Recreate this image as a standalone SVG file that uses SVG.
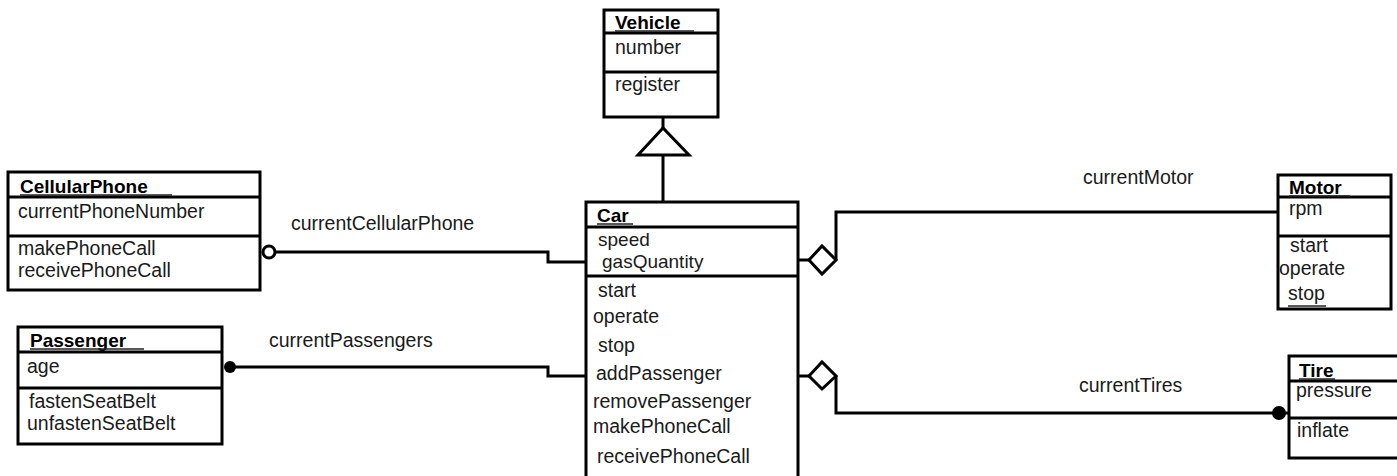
<svg xmlns="http://www.w3.org/2000/svg" width="1397" height="476" viewBox="0 0 1397 476">
<style>
  .box{fill:#fff;stroke:#000;stroke-width:3}
  .div{stroke:#000;stroke-width:3}
  .ul{stroke:#222;stroke-width:1.5}
  .t{font-family:"Liberation Sans",Arial,sans-serif;font-size:19.5px;fill:#1a1a1a}
  .b{font-family:"Liberation Sans",Arial,sans-serif;font-size:19px;font-weight:bold;fill:#000}
  .c{fill:none;stroke:#000;stroke-width:3}
</style>
<rect width="1397" height="476" fill="#fff"/>
<g id="connectors">
  <polyline class="c" points="663,117 663,128"/>
  <polygon class="c" points="663,128 638,155 689,155" stroke-linejoin="miter"/>
  <polyline class="c" points="663,155 663,202"/>
  <polyline class="c" points="276,252 548,252 548,262 586,262"/>
  <circle cx="269" cy="252" r="6" fill="#fff" stroke="#000" stroke-width="3"/>
  <polyline class="c" points="230,367 548,367 548,376 586,376"/>
  <circle cx="230" cy="367" r="6" fill="#000"/>
  <polyline class="c" points="798,260 809,260"/>
  <polygon class="c" points="809,260 822,246 836,260 822,274"/>
  <polyline class="c" points="836,260 836,212 1278,212"/>
  <polyline class="c" points="798,376 809,376"/>
  <polygon class="c" points="809,376 822,362 836,376 822,389"/>
  <polyline class="c" points="836,376 836,413 1289,413"/>
  <circle cx="1279" cy="413" r="7" fill="#000"/>
  <text class="t" x="291" y="230">currentCellularPhone</text>
  <text class="t" x="269" y="347">currentPassengers</text>
  <text class="t" x="1083" y="184">currentMotor</text>
  <text class="t" x="1079" y="392">currentTires</text>
</g>
<g id="Vehicle">
  <rect class="box" x="604" y="10" width="114" height="107"/>
  <line class="div" x1="604" y1="33" x2="718" y2="33"/>
  <line class="div" x1="604" y1="72" x2="718" y2="72"/>
  <text class="b" x="615" y="29">Vehicle</text>
  <line class="ul" x1="615" y1="31" x2="694" y2="31"/>
  <text class="t" x="615" y="54">number</text>
  <text class="t" x="615" y="91">register</text>
</g>
<g id="Car">
  <rect class="box" x="586" y="202" width="212" height="300"/>
  <line class="div" x1="586" y1="227" x2="798" y2="227"/>
  <line class="div" x1="586" y1="276" x2="798" y2="276"/>
  <text class="b" x="597" y="222">Car</text>
  <line class="ul" x1="597" y1="224" x2="633" y2="224"/>
  <text class="t" x="598" y="246" style="font-size:19px">speed</text>
  <text class="t" x="602" y="268" style="font-size:19px">gasQuantity</text>
  <text class="t" x="598" y="297">start</text>
  <text class="t" x="593" y="323">operate</text>
  <text class="t" x="598" y="352">stop</text>
  <text class="t" x="596" y="380">addPassenger</text>
  <text class="t" x="593" y="408">removePassenger</text>
  <text class="t" x="593" y="433">makePhoneCall</text>
  <text class="t" x="597" y="463">receivePhoneCall</text>
</g>
<g id="CellularPhone">
  <rect class="box" x="8" y="172" width="252" height="118"/>
  <line class="div" x1="8" y1="197" x2="260" y2="197"/>
  <line class="div" x1="8" y1="236" x2="260" y2="236"/>
  <text class="b" x="20" y="193">CellularPhone</text>
  <line class="ul" x1="20" y1="195" x2="172" y2="195"/>
  <text class="t" x="18" y="218">currentPhoneNumber</text>
  <text class="t" x="18" y="255">makePhoneCall</text>
  <text class="t" x="18" y="277">receivePhoneCall</text>
</g>
<g id="Passenger">
  <rect class="box" x="18" y="327" width="204" height="117"/>
  <line class="div" x1="18" y1="352" x2="222" y2="352"/>
  <line class="div" x1="18" y1="388" x2="222" y2="388"/>
  <text class="b" x="30" y="347">Passenger</text>
  <line class="ul" x1="30" y1="349" x2="144" y2="349"/>
  <text class="t" x="27" y="373">age</text>
  <text class="t" x="29" y="408">fastenSeatBelt</text>
  <text class="t" x="27" y="430">unfastenSeatBelt</text>
</g>
<g id="Motor">
  <rect class="box" x="1278" y="175" width="113" height="134"/>
  <line class="div" x1="1278" y1="197" x2="1391" y2="197"/>
  <line class="div" x1="1278" y1="236" x2="1391" y2="236"/>
  <text class="b" x="1289" y="194">Motor</text>
  <line class="ul" x1="1289" y1="196" x2="1350" y2="196"/>
  <text class="t" x="1289" y="215">rpm</text>
  <text class="t" x="1290" y="252">start</text>
  <text class="t" x="1279" y="275">operate</text>
  <text class="t" x="1288" y="300">stop</text>
  <line class="ul" x1="1288" y1="306" x2="1326" y2="306"/>
</g>
<g id="Tire">
  <rect class="box" x="1289" y="356" width="120" height="102"/>
  <line class="div" x1="1289" y1="381" x2="1409" y2="381"/>
  <line class="div" x1="1289" y1="418" x2="1409" y2="418"/>
  <text class="b" x="1299" y="377">Tire</text>
  <line class="ul" x1="1299" y1="379" x2="1335" y2="379"/>
  <text class="t" x="1296" y="397">pressure</text>
  <text class="t" x="1297" y="437">inflate</text>
</g>
</svg>
